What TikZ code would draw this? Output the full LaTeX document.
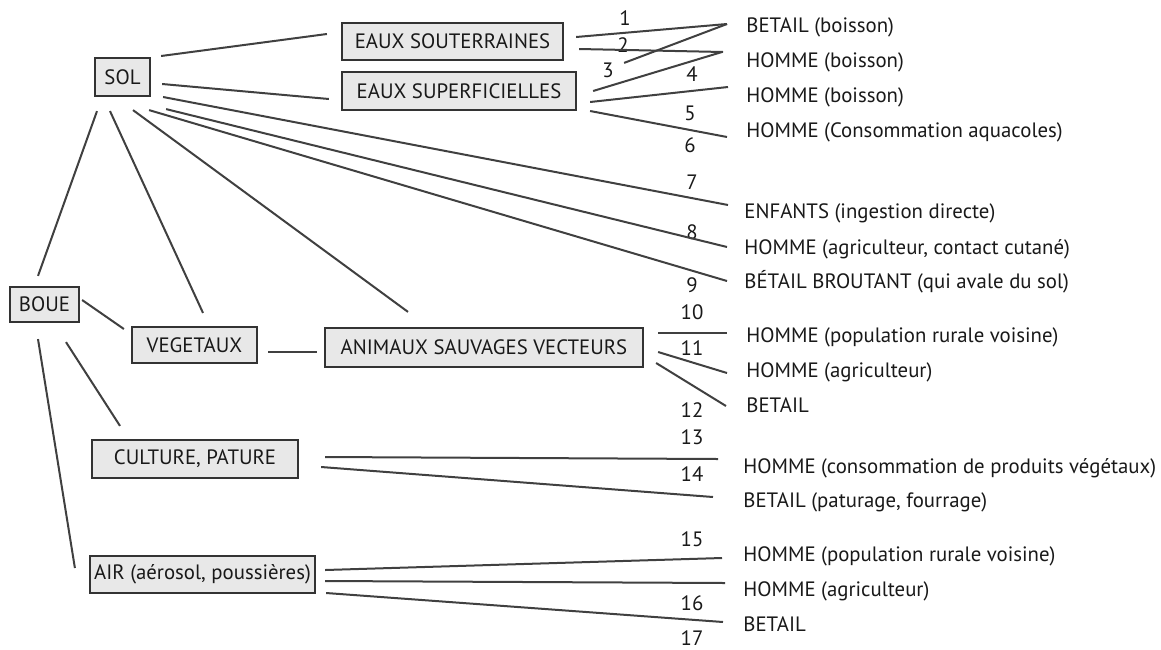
\documentclass[tikz,border=0pt]{standalone}
\usepackage{fontspec}
\setmainfont{PT Sans}
\usepackage{tikz}

\begin{document}
\begin{tikzpicture}[x=0.5pt,y=-0.5pt,
	every node/.style={font=\fontsize{10.4}{12}\selectfont,text=black!90},
	boite/.style={draw=black!80,line width=1.1pt,fill=black!9,inner sep=0pt,minimum height=19pt},
	cible/.style={anchor=base west,inner sep=0pt},
	num/.style={anchor=base,inner sep=0pt},
	lien/.style={line width=1pt,draw=black!75}]
	\useasboundingbox (0,0) rectangle (1161,649);
	\node[boite,minimum width=27.5pt] (sol) at (122.5,77) {SOL};
	\node[boite,minimum width=34.5pt,minimum height=17.5pt] (boue) at (44.5,304.5) {BOUE};
	\node[boite,minimum width=62.5pt,minimum height=18pt] (veg) at (194.5,345) {VEGETAUX};
	\node[boite,minimum width=110.5pt,minimum height=18.5pt] (eauxsout) at (452.5,41.5) {EAUX SOUTERRAINES};
	\node[boite,minimum width=117pt] (eauxsup) at (459,91) {EAUX SUPERFICIELLES};
	\node[boite,minimum width=159pt,minimum height=19.5pt] (animaux) at (484,347.5) {ANIMAUX SAUVAGES VECTEURS};
	\node[boite,minimum width=103pt] (culture) at (195,459) {CULTURE, PATURE};
	\node[boite,minimum width=112.5pt,minimum height=18.5pt] (air) at (202.5,574.5) {AIR (aérosol, poussières)};
	\node[cible] (t1) at (746,32) {BETAIL (boisson)};
	\node[cible] (t2) at (746,67) {HOMME (boisson)};
	\node[cible] (t3) at (746,102) {HOMME (boisson)};
	\node[cible] (t4) at (746,137) {HOMME (Consommation aquacoles)};
	\node[cible] (t5) at (744,218) {ENFANTS (ingestion directe)};
	\node[cible] (t6) at (744,254) {HOMME (agriculteur, contact cutané)};
	\node[cible] (t7) at (744,288) {BÉTAIL BROUTANT (qui avale du sol)};
	\node[cible] (t8) at (746,342) {HOMME (population rurale voisine)};
	\node[cible] (t9) at (746,377) {HOMME (agriculteur)};
	\node[cible] (t10) at (746,412) {BETAIL};
	\node[cible] (t11) at (743,473) {HOMME (consommation de produits végétaux)};
	\node[cible] (t12) at (743,507) {BETAIL (paturage, fourrage)};
	\node[cible] (t13) at (743,561) {HOMME (population rurale voisine)};
	\node[cible] (t14) at (743,596) {HOMME (agriculteur)};
	\node[cible] (t15) at (743,631) {BETAIL};
	\node[num] (n1) at (625,25) {1};
	\node[num] (n2) at (623,52) {2};
	\node[num] (n3) at (608,77) {3};
	\node[num] (n4) at (692,81) {4};
	\node[num] (n5) at (690,120) {5};
	\node[num] (n6) at (690,152) {6};
	\node[num] (n7) at (692,189) {7};
	\node[num] (n8) at (692,239) {8};
	\node[num] (n9) at (692,292) {9};
	\node[num] (n10) at (692,319) {10};
	\node[num] (n11) at (692,355) {11};
	\node[num] (n12) at (692,417) {12};
	\node[num] (n13) at (692,444) {13};
	\node[num] (n14) at (692,481) {14};
	\node[num] (n15) at (692,546) {15};
	\node[num] (n16) at (692,610) {16};
	\node[num] (n17) at (692,645) {17};
	\draw[lien] ([shift={(10,-21)}]sol.east) -- ([shift={(-14,-7.5)}]eauxsout.west);
	\draw[lien] ([shift={(11,7)}]sol.east) -- ([shift={(-12,8)}]eauxsup.west);
	\draw[lien] ([shift={(12,20)}]sol.east) -- ([shift={(-16,-13)}]t5.base west);
	\draw[lien] ([shift={(15,12)}]sol.south east) -- ([shift={(-17,-7)}]t6.base west);
	\draw[lien] ([shift={(-2,13)}]sol.south east) -- ([shift={(-17,-7)}]t7.base west);
	\draw[lien] ([shift={(10.5,13)}]sol.south) -- ([shift={(-76,-15)}]animaux.north);
	\draw[lien] ([shift={(-12.5,14)}]sol.south) -- ([shift={(8.5,-13)}]veg.north);
	\draw[lien] ([shift={(-25.5,14)}]sol.south) -- ([shift={(-6.5,-10)}]boue.north);
	\draw[lien] ([shift={(2,-4.5)}]boue.east) -- ([shift={(-7,-16)}]veg.west);
	\draw[lien] ([shift={(21.5,19)}]boue.south) -- ([shift={(-75,-13)}]culture.north);
	\draw[lien] ([shift={(-6.5,16)}]boue.south) -- ([shift={(-14,-6.5)}]air.west);
	\draw[lien] ([shift={(10,7)}]veg.east) -- ([shift={(-7,4.5)}]animaux.west);
	\draw[lien] ([shift={(12,-4.5)}]eauxsout.east) -- ([shift={(-19,-8)}]t1.base west);
	\draw[lien] ([shift={(15,7.5)}]eauxsout.east) -- ([shift={(-23,-15)}]t2.base west);
	\draw[lien] ([shift={(47,-8)}]eauxsup.north east) -- ([shift={(-19,-8)}]t1.base west);
	\draw[lien] ([shift={(16,0)}]eauxsup.east) -- ([shift={(-24,-15)}]t2.base west);
	\draw[lien] ([shift={(13,11)}]eauxsup.east) -- ([shift={(-18,-15)}]t3.base west);
	\draw[lien] ([shift={(13,20)}]eauxsup.east) -- ([shift={(-19,0)}]t4.base west);
	\draw[lien] ([shift={(14,-14.5)}]animaux.east) -- ([shift={(-19,-9)}]t8.base west);
	\draw[lien] ([shift={(14,4.5)}]animaux.east) -- ([shift={(-19,-4)}]t9.base west);
	\draw[lien] ([shift={(12,15.5)}]animaux.east) -- ([shift={(-20,-6)}]t10.base west);
	\draw[lien] ([shift={(26,-2)}]culture.east) -- ([shift={(-25,-14)}]t11.base west);
	\draw[lien] ([shift={(22,8)}]culture.east) -- ([shift={(-30,-10)}]t12.base west);
	\draw[lien] ([shift={(9,-4.5)}]air.east) -- ([shift={(-21,-3)}]t13.base west);
	\draw[lien] ([shift={(9,6.5)}]air.east) -- ([shift={(-18,-13)}]t14.base west);
	\draw[lien] ([shift={(10,18.5)}]air.east) -- ([shift={(-20,-9)}]t15.base west);
\end{tikzpicture}
\end{document}
